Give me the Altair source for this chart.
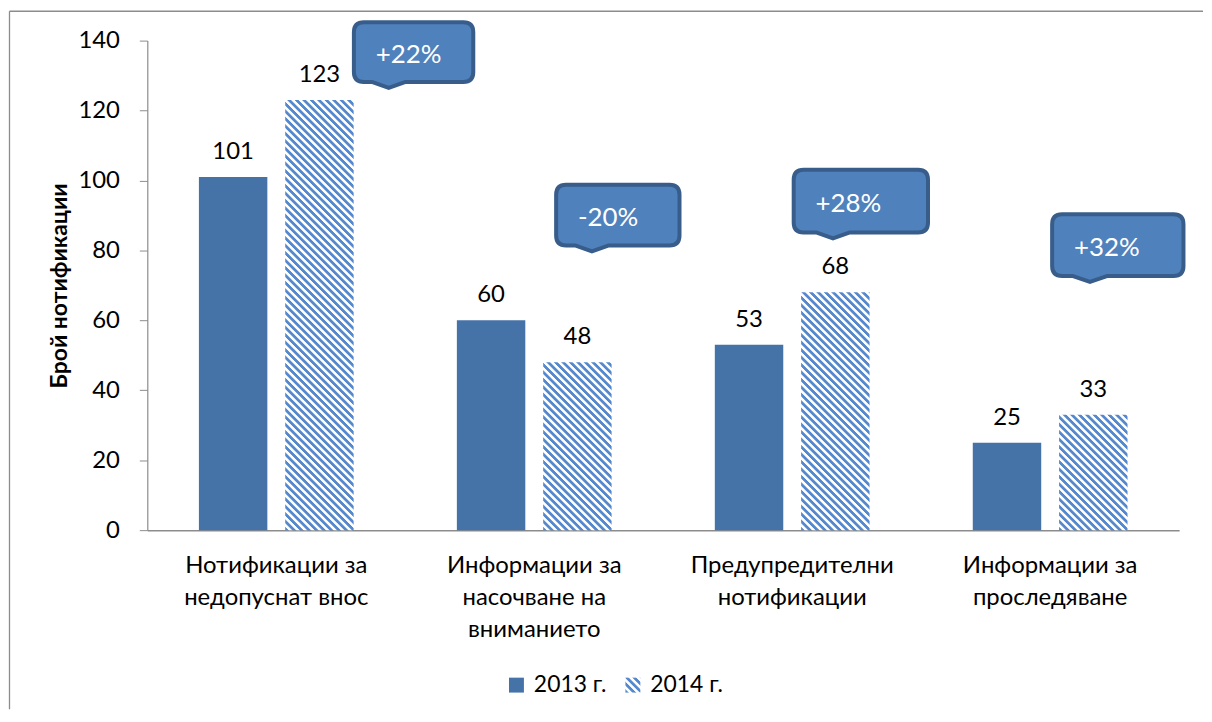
import json
import math
import altair as alt
import pandas as pd

# ---------------- data ----------------
categories = [
    "Нотификации за\nнедопуснат внос",
    "Информации за\nнасочване на\nвниманието",
    "Предупредителни\nнотификации",
    "Информации за\nпроследяване",
]
years = ["2013 г.", "2014 г."]
values_2013 = [101, 60, 53, 25]
values_2014 = [123, 48, 68, 33]

# ---------------- annotation layout (callouts) ----------------
callout_y = [136.7, 90.1, 94.1, 81.5]   # box centre, data units
callout_dx = [138, 84, 69, 68]          # px from category centre
callout_w = [120, 124, 135, 132]
callout_h = [60, 61, 63, 62]
callout_tip = [-25, -26, -28, -28]

# ---------------- styles ----------------
FONT = "Lato"
PLOT_W, PLOT_H, YMAX = 1037, 492, 140
C2013 = "#4572A7"
STRIPE_BLUE = "#5588CC"
AXIS_GRAY = "#8c8c8c"
PAD_INNER, PAD_OUTER = 0.207, 0.598

step_o = (PLOT_W / len(categories)) / (2 - PAD_INNER + 2 * PAD_OUTER)
BAR_W = step_o * (1 - PAD_INNER)


def stripe_gradient(W, H, period=5.3):
    S = (W + H) / math.sqrt(2)
    a = W * (W + H) / (W ** 2 + H ** 2)
    y2 = W * (W - H) / (W ** 2 + H ** 2)
    d = period / S
    stops = []
    k = 0
    while k * d <= 1:
        base = k * d
        for frac, col in [(0, STRIPE_BLUE), (0.38, STRIPE_BLUE), (0.52, "#FFFFFF"), (0.86, "#FFFFFF")]:
            o = base + frac * d
            if o <= 1:
                stops.append({"offset": round(o, 5), "color": col})
        k += 1
    return {"gradient": "linear", "x1": 0, "y1": 1, "x2": round(a, 5), "y2": round(y2, 5), "stops": stops}


def callout_path(w, h, r, tx, tip_d=6, hb=17):
    L, R, T, B = -w / 2, w / 2, -h / 2, h / 2
    return (f"M{L+r},{T} L{R-r},{T} Q{R},{T} {R},{T+r} L{R},{B-r} Q{R},{B} {R-r},{B} "
            f"L{tx+hb},{B} L{tx},{B+tip_d} L{tx-hb},{B} L{L+r},{B} Q{L},{B} {L},{B-r} "
            f"L{L},{T+r} Q{L},{T} {L+r},{T} Z")


legend_grad_expr = json.dumps(stripe_gradient(15, 15))

# ---------------- tables ----------------
rows = []
for c, v in zip(categories, values_2013):
    rows.append({"category": c, "year": years[0], "value": v})
for c, v in zip(categories, values_2014):
    rows.append({"category": c, "year": years[1], "value": v})
df = pd.DataFrame(rows)

call_rows = []
for c, a, b, cy in zip(categories, values_2013, values_2014, callout_y):
    pct = round((b - a) / a * 100)
    call_rows.append({"category": c, "cy": cy, "label": f"{pct:+d}%"})
cdf = pd.DataFrame(call_rows)

# ---------------- shared encodings ----------------
xscale = alt.Scale(domain=categories, paddingInner=0, paddingOuter=0)
xaxis = alt.Axis(title=None, labelAngle=0, ticks=False, tickSize=0, labelPadding=24,
                 labelExpr="split(datum.label, '\\n')", labelLineHeight=32,
                 labelFont=FONT, labelFontSize=24, labelColor="black", labelLimit=400,
                 domainColor=AXIS_GRAY, domainWidth=1.5)
yscale = alt.Scale(domain=[0, YMAX], nice=False)
yaxis = alt.Axis(title="Брой нотификации", values=list(range(0, 141, 20)), grid=False,
                 tickSize=8, tickColor=AXIS_GRAY, domainColor=AXIS_GRAY, domainWidth=1.2,
                 labelFont=FONT, labelFontSize=24, labelColor="black", labelPadding=20,
                 titleFont=FONT, titleFontSize=23, titleFontWeight="bold", titleColor="black",
                 titlePadding=6)
xo = alt.XOffset("year:N", scale=alt.Scale(domain=years, paddingInner=PAD_INNER, paddingOuter=PAD_OUTER))


def X():
    return alt.X("category:N", sort=categories, scale=xscale, axis=xaxis)


def Y(field):
    return alt.Y(field, scale=yscale, axis=yaxis)


layers = []

# frame (top and left edges of the chart area)
frame_df = pd.DataFrame({"k": [0]})
layers.append(alt.Chart(frame_df).mark_rule(color=AXIS_GRAY, strokeWidth=1.3).encode(
    x=alt.value(-138.5), x2=alt.value(1061), y=alt.value(-29.5)))
layers.append(alt.Chart(frame_df).mark_rule(color=AXIS_GRAY, strokeWidth=1.3).encode(
    x=alt.value(-138.5), y=alt.value(-29.5), y2=alt.value(672)))

# 2013 bars (carry the legend)
layers.append(alt.Chart(df[df.year == years[0]]).mark_bar().encode(
    x=X(), xOffset=xo, y=Y("value:Q"),
    color=alt.Color("year:N", scale=alt.Scale(domain=years, range=[C2013, alt.ExprRef(expr=legend_grad_expr)]),
                    legend=alt.Legend(title=None, orient="none", legendX=359.5, legendY=636,
                                      direction="horizontal", symbolType="square", symbolSize=225,
                                      symbolStrokeWidth=0, labelFont=FONT, labelFontSize=23,
                                      labelColor="black", labelOffset=6, columnPadding=15, padding=0))))

# 2014 bars, hatched
for c, v in zip(categories, values_2014):
    H = v * PLOT_H / YMAX
    sub = df[(df.year == years[1]) & (df.category == c)]
    layers.append(alt.Chart(sub).mark_bar(fill=stripe_gradient(BAR_W, H)).encode(
        x=X(), xOffset=xo, y=Y("value:Q")))

# value labels
layers.append(alt.Chart(df).mark_text(font=FONT, fontSize=24, color="black", baseline="alphabetic", dy=-18).encode(
    x=X(), xOffset=xo, y=Y("value:Q"), text=alt.Text("value:Q")))

# callouts
for i, c in enumerate(categories):
    sub = cdf[cdf.category == c]
    w, h = callout_w[i], callout_h[i]
    layers.append(alt.Chart(sub).mark_point(
        shape=callout_path(w, h, 10, callout_tip[i]), size=4, filled=True, opacity=1,
        fill="#4F81BD", stroke="#385D8A", strokeWidth=4, strokeJoin="round",
        xOffset=callout_dx[i]).encode(x=X(), y=Y("cy:Q")))
    layers.append(alt.Chart(sub).mark_text(
        font=FONT, fontSize=26, color="white", align="left", baseline="alphabetic",
        xOffset=callout_dx[i] - (w + 4) / 2 + 24, yOffset=11).encode(
        x=X(), y=Y("cy:Q"), text="label:N"))

chart = alt.layer(*layers).properties(width=PLOT_W, height=PLOT_H, padding=0).configure(
    font=FONT).configure_view(stroke="transparent")

chart.save("out.html", embed_options={"renderer": "svg", "actions": False})
